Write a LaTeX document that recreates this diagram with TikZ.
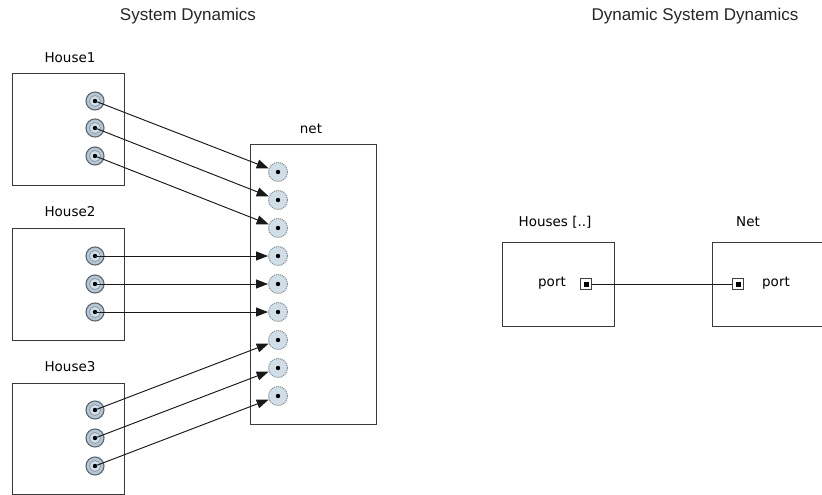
\documentclass[tikz,border=0pt]{standalone}
\usepackage{fontspec}
\setmainfont{DejaVu Sans}
\newfontfamily\titlefont{Liberation Sans}
\usetikzlibrary{arrows.meta}
\definecolor{portfill}{HTML}{B3C7D6}
\definecolor{portinner}{HTML}{D0DEE8}
\definecolor{portedge}{HTML}{5E6770}
\definecolor{boxedge}{HTML}{3A3A3A}
\tikzset{
  blk/.style={draw=boxedge, line width=1pt},
  lbl/.style={font=\fontsize{13.5}{15}\selectfont, text=black, inner sep=0pt},
  ttl/.style={font=\titlefont\fontsize{17}{19}\selectfont, text=black!85, inner sep=0pt},
  hport/.style={circle, draw=portedge, line width=1.1pt, fill=portfill, minimum size=18pt, inner sep=0pt,
     path picture={\filldraw[draw=portedge!70, fill=portinner, line width=0.7pt] (path picture bounding box.center) circle (5.5pt);
                   \fill[black] (path picture bounding box.center) circle (2.2pt);}},
  nport/.style={circle, draw=portedge!80, densely dotted, line width=1pt, fill=portinner, minimum size=19pt, inner sep=0pt,
     path picture={\fill[black] (path picture bounding box.center) circle (2.2pt);}},
  sqport/.style={rectangle, draw=black!75, line width=1.2pt, fill=white, minimum size=11pt, inner sep=0pt,
     path picture={\node[fill=black, minimum size=5pt, inner sep=0pt] at (path picture bounding box.center) {};}},
  conn/.style={draw=black!90, line width=0.95pt},
  arr/.style={conn, -{Triangle[length=12pt,width=9pt]}}
}
\begin{document}
\begin{tikzpicture}[x=1pt,y=-1pt]
\path[use as bounding box, clip] (0,0) rectangle (822,495);
\fill[white] (0,0) rectangle (822,495);

\node[ttl] (t1) at (188,16) {System Dynamics};
\node[ttl] (t2) at (695,16) {Dynamic System Dynamics};

% House boxes
\node[lbl] (l1) at (70,58) {House1};
\draw[blk] (12,74) rectangle (124,185);
\node[lbl] (l2) at (70,212) {House2};
\draw[blk] (12,228) rectangle (124,340);
\node[lbl] (l3) at (70,367) {House3};
\draw[blk] (12,383) rectangle (124,494);

% net
\node[lbl] (ln) at (311,129) {net};
\draw[blk] (250,144) rectangle (376,424);

% house ports
\foreach \n/\y in {a/101,b/128,c/156}{\node[hport] (h1\n) at (95,\y) {};}
\foreach \n/\y in {a/256,b/284,c/312}{\node[hport] (h2\n) at (95,\y) {};}
\foreach \n/\y in {a/410,b/438,c/466}{\node[hport] (h3\n) at (95,\y) {};}

% net ports
\foreach \i/\y in {1/172,2/200,3/228,4/256,5/284,6/312,7/340,8/368,9/396}{\node[nport] (n\i) at (278,\y) {};}

\draw[arr] (h1a.center) -- (n1);
\draw[arr] (h1b.center) -- (n2);
\draw[arr] (h1c.center) -- (n3);
\draw[arr] (h2a.center) -- (n4);
\draw[arr] (h2b.center) -- (n5);
\draw[arr] (h2c.center) -- (n6);
\draw[arr] (h3a.center) -- (n7);
\draw[arr] (h3b.center) -- (n8);
\draw[arr] (h3c.center) -- (n9);

% right side
\node[lbl] (lh) at (555,222) {Houses [..]};
\draw[blk] (502,242) rectangle (614,326);
\node[lbl] (lnet) at (748,222) {Net};
\draw[blk] (712,242) rectangle (830,326);

\node[lbl] (pt1) at (552,283) {port};
\node[sqport] (p1) at (586,284) {};
\node[sqport] (p2) at (738,284) {};
\node[lbl] (pt2) at (776,283) {port};
\draw[conn] (p1) -- (p2);
\end{tikzpicture}
\end{document}
